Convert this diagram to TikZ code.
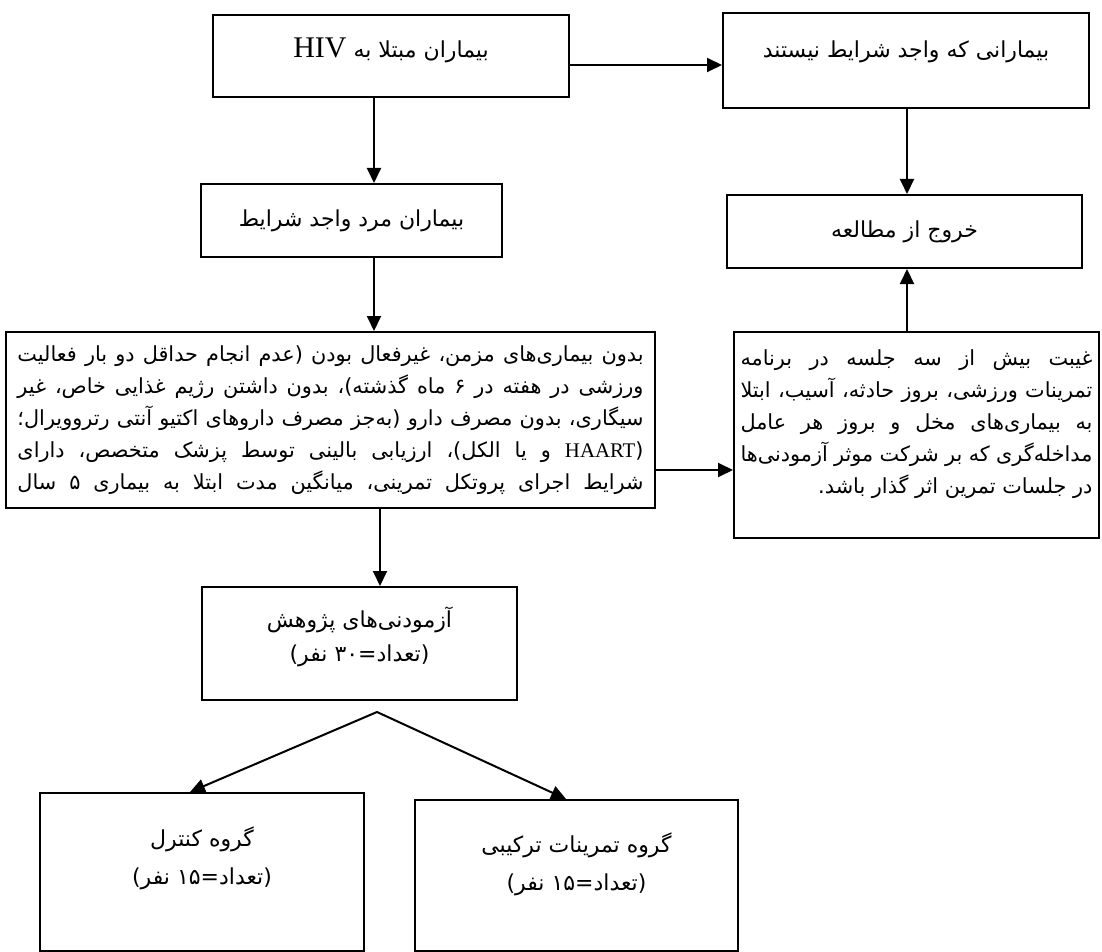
\documentclass[tikz,border=0pt]{standalone}
\usepackage{fontspec}
\setmainfont{Liberation Serif}
\newfontfamily\fa[Script=Arabic]{DejaVu Sans}
\TeXXeTstate=1
\usepackage{tikz}
\usetikzlibrary{arrows.meta}

\newcommand{\jline}[2]{\hbox to #1{#2}}
\newcommand{\rline}[2]{\hbox to #1{\hfill #2}}

\begin{document}
\begin{tikzpicture}[x=0.5pt, y=-0.5pt,
    box/.style={draw, line width=1pt, inner sep=0pt, font=\fa\fontsize{11}{16}\selectfont},
    para/.style={box, font=\fa\fontsize{10.4}{16}\selectfont},
    arr/.style={line width=1pt, -{Triangle[length=7.5pt,width=7pt]}}]

    \useasboundingbox (0,0) rectangle (1102,952);

    \node[box, minimum width=178pt, minimum height=41pt, text height=9pt, text depth=7pt] (hiv) at (391,56)
        {\beginR بیماران مبتلا به {\rmfamily\fontsize{15}{18}\selectfont HIV}\endR};
    \node[box, minimum width=183pt, minimum height=47.5pt, text height=8pt, text depth=10.5pt] (noelig) at (906,60.5)
        {\beginR بیمارانی که واجد شرایط نیستند\endR};
    \node[box, minimum width=150.5pt, minimum height=36.5pt] (male) at (351.5,220.5)
        {\beginR بیماران مرد واجد شرایط\endR};
    \node[box, minimum width=177.5pt, minimum height=36.5pt] (quit) at (904.5,231.5)
        {\beginR خروج از مطالعه\endR};

    \node[para, minimum width=324.5pt, minimum height=88pt] (crit) at (330.5,420) {\vbox{%
        \jline{313pt}{\beginR بدون بیماری‌های مزمن، غیرفعال بودن (عدم انجام حداقل دو بار فعالیت\endR}
        \jline{313pt}{\beginR ورزشی در هفته در ۶ ماه گذشته)، بدون داشتن رژیم غذایی خاص، غیر\endR}
        \jline{313pt}{\beginR سیگاری، بدون مصرف دارو (به‌جز مصرف داروهای اکتیو آنتی رتروویرال؛\endR}
        \jline{313pt}{\beginR ({\rmfamily HAART} و یا الکل)، ارزیابی بالینی توسط پزشک متخصص، دارای\endR}
        \jline{313pt}{\beginR شرایط اجرای پروتکل تمرینی، میانگین مدت ابتلا به بیماری ۵ سال\endR}}};
    \node[para, minimum width=182.5pt, minimum height=103pt, text depth=13pt] (absent) at (916.5,435) {\vbox{%
        \jline{176pt}{\beginR غیبت بیش از سه جلسه در برنامه\endR}
        \jline{176pt}{\beginR تمرینات ورزشی، بروز حادثه، آسیب، ابتلا\endR}
        \jline{176pt}{\beginR به بیماری‌های مخل و بروز هر عامل\endR}
        \jline{176pt}{\beginR مداخله‌گری که بر شرکت موثر آزمودنی‌ها\endR}
        \rline{176pt}{\beginR در جلسات تمرین اثر گذار باشد.\endR}}};

    \node[box, minimum width=157.5pt, minimum height=56.5pt, align=center, text depth=9pt] (subj) at (359.5,643.5)
        {\beginR آزمودنی‌های پژوهش\endR\\[1pt]\beginR (تعداد=۳۰ نفر)\endR};
    \node[box, minimum width=162pt, minimum height=79pt, align=center, text depth=16pt] (ctrl) at (202,872)
        {\beginR گروه کنترل\endR\\[3pt]\beginR (تعداد=۱۵ نفر)\endR};
    \node[box, minimum width=161.5pt, minimum height=75.5pt, align=center, text depth=13.5pt] (comb) at (576.5,875.5)
        {\beginR گروه تمرینات ترکیبی\endR\\[3pt]\beginR (تعداد=۱۵ نفر)\endR};

    % connectors
    \coordinate (spine) at (374,0);
    \coordinate (spinelow) at (380,0);
    \coordinate (side) at (0,65);
    \coordinate (rcol) at (907,0);
    \coordinate (mid) at (0,470);
    \coordinate (split) at (377,712);
    \coordinate (lt) at (190,0);
    \coordinate (rt) at (566,0);

    \draw[arr] (side -| hiv.east) -- (side -| noelig.west);
    \draw[arr] (spine |- hiv.south) -- (spine |- male.north);
    \draw[arr] (spine |- male.south) -- (spine |- crit.north);
    \draw[arr] (spinelow |- crit.south) -- (spinelow |- subj.north);
    \draw[arr] (rcol |- noelig.south) -- (rcol |- quit.north);
    \draw[arr] (rcol |- absent.north) -- (rcol |- quit.south);
    \draw[arr] (mid -| crit.east) -- (mid -| absent.west);
    \draw[arr] (split) -- (lt |- ctrl.north);
    \draw[arr] (split) -- (rt |- comb.north);
\end{tikzpicture}
\end{document}
